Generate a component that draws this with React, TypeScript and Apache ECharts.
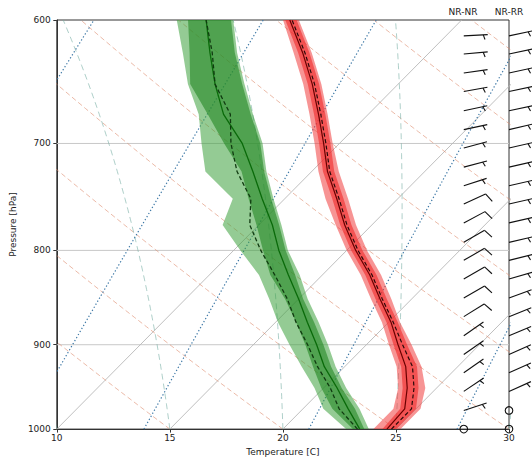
import React, { useEffect, useRef } from "react";
import * as echarts from "echarts";

// ---------- data ----------
const levels = [1000, 975, 950, 925, 900, 875, 850, 825, 800, 775, 750, 725, 700, 675, 650, 625, 600];

// temperature (deg C)
const tempNR = [24.6, 24.5, 23.7, 22.7, 21.4, 20.1, 18.6, 17.1, 15.4, 13.8, 12.3, 10.7, 9.3, 7.8, 6.2, 4.4, 2.4];
const tempRR = [24.8, 24.8, 24.0, 23.0, 21.6, 20.2, 18.7, 17.2, 15.5, 13.9, 12.4, 10.8, 9.4, 7.9, 6.3, 4.5, 2.5];
const tempOuterLo = [24.0, 24.0, 23.3, 22.3, 21.0, 19.7, 18.2, 16.7, 15.0, 13.4, 11.8, 10.3, 8.9, 7.4, 5.8, 4.0, 2.1];
const tempOuterHi = [25.2, 25.2, 24.5, 23.4, 22.0, 20.5, 19.1, 17.6, 15.9, 14.3, 12.8, 11.2, 9.7, 8.2, 6.6, 4.8, 2.8];
const tempInnerLo = [24.4, 24.3, 23.5, 22.5, 21.2, 19.9, 18.4, 16.9, 15.2, 13.6, 12.1, 10.5, 9.1, 7.6, 6.0, 4.2, 2.2];
const tempInnerHi = [25.0, 25.0, 24.2, 23.2, 21.8, 20.4, 18.9, 17.4, 15.7, 14.1, 12.6, 11.0, 9.6, 8.1, 6.5, 4.7, 2.7];

// dewpoint (deg C)
const dewNR = [23.4, 22.0, 20.6, 19.1, 17.8, 16.4, 15.0, 13.5, 12.0, 10.6, 9.0, 7.4, 5.7, 3.6, 1.9, 0.3, -1.3];
const dewRR = [23.3, 21.6, 20.3, 18.8, 17.4, 15.9, 14.5, 12.9, 11.2, 9.6, 8.5, 6.7, 5.2, 3.9, 1.9, 0.4, -1.3];
const dewOuterLo = [22.8, 20.9, 19.6, 18.1, 16.6, 15.1, 13.7, 12.2, 10.3, 8.4, 7.7, 5.3, 3.9, 2.5, 0.7, -0.9, -2.6];
const dewInnerLo = [23.1, 21.3, 19.9, 18.6, 17.3, 15.9, 14.4, 12.7, 11.3, 9.9, 8.4, 6.9, 4.9, 2.9, 0.8, -0.6, -2.1];
const dewInnerHi = [23.6, 22.3, 20.8, 19.4, 18.1, 16.7, 15.2, 13.8, 12.3, 10.9, 9.4, 7.9, 6.5, 4.8, 3.1, 1.4, -0.2];
const dewOuterHi = [23.8, 22.5, 21.0, 19.6, 18.3, 16.9, 15.4, 14.0, 12.4, 11.0, 9.5, 8.0, 6.6, 4.9, 3.2, 1.5, -0.1];

// wind barbs
const barbLevels = [1000, 977, 954, 932, 911, 890, 869, 849, 829, 810, 792, 773, 755, 738, 721, 704, 688, 672, 656, 641, 626, 612];
const nrnrSpeed = [0, 5, 5, 5, 5, 5, 10, 10, 10, 10, 10, 10, 10, 5, 5, 5, 5, 5, 5, 5, 5, 5];
const nrnrDir = [0, 72, 56, 55, 55, 55, 58, 60, 60, 60, 60, 62, 65, 72, 75, 75, 78, 78, 80, 82, 85, 87];
const nrrrSpeed = [0, 0, 5, 5, 5, 5, 5, 5, 5, 5, 5, 5, 5, 5, 5, 5, 5, 5, 5, 5, 5, 5];
const nrrrDir = [0, 0, 66, 66, 66, 67, 68, 70, 74, 76, 77, 77, 77, 77, 77, 77, 77, 78, 78, 78, 78, 78];

// axes
const xTicks = [10, 15, 20, 25, 30];
const pressureTicks = [600, 700, 800, 900, 1000];
const gridPressures = [700, 800, 900];

// background reference lines
const isoTemps = [10, 15, 20, 25, 30];
const dryThetas = [10, 15, 20, 25, 30, 35, 40, 45, 50, 55, 60];
const moistStarts = [10, 15, 20, 25, 30];
const mixingRatios = [0.0004, 0.001, 0.002, 0.004, 0.007, 0.01, 0.016, 0.024, 0.032];

// ---------- helpers ----------
const SKEW = 35.05;
const lp = (p: number) => Math.log(p);
const xOf = (t: number, p: number) => t + SKEW * Math.log(1000 / p);
const pSteps: number[] = [];
for (let p = 1000; p >= 600; p -= 10) pSteps.push(p);

function dryLine(th: number) {
  return pSteps.map((p) => [xOf((th + 273.15) * Math.pow(p / 1000, 0.2857) - 273.15, p), lp(p)]);
}
function mixLine(w: number) {
  return pSteps.map((p) => {
    const e = (p * w) / (0.622 + w);
    const a = Math.log(e / 6.112);
    const td = (243.5 * a) / (17.67 - a);
    return [xOf(td, p), lp(p)];
  });
}
function moistLine(t0: number) {
  const f = (pp: number, TT: number) => {
    const tc = TT - 273.15;
    const es = 6.112 * Math.exp((17.67 * tc) / (tc + 243.5));
    const rs = (0.622 * es) / (pp - es);
    return ((1 / pp) * (287.04 * TT + 2.501e6 * rs)) / (1005.7 + (2.501e6 * 2.501e6 * rs * 0.622) / (287.04 * TT * TT));
  };
  let T = t0 + 273.15;
  let p = 1000;
  const dp = -5;
  const pts: number[][] = [[xOf(T - 273.15, p), lp(p)]];
  while (p > 600) {
    const k1 = f(p, T);
    const k2 = f(p + dp / 2, T + (dp / 2) * k1);
    const k3 = f(p + dp / 2, T + (dp / 2) * k2);
    const k4 = f(p + dp, T + dp * k3);
    T += (dp / 6) * (k1 + 2 * k2 + 2 * k3 + k4);
    p += dp;
    pts.push([xOf(T - 273.15, p), lp(p)]);
  }
  return pts;
}

const bg = (data: number[][], color: string, width: number, type: any) => ({
  type: "line",
  data,
  showSymbol: false,
  symbol: "none",
  silent: true,
  z: 1,
  lineStyle: { color, width, type },
});

function band(lo: number[], hi: number[], color: string, z: number) {
  return {
    type: "custom",
    z,
    silent: true,
    clip: true,
    encode: { x: [0, 1], y: 2 },
    data: levels.map((p, i) => [xOf(lo[i], p), xOf(hi[i], p), lp(p)]),
    renderItem: (params: any, api: any) => {
      if (params.dataIndex !== 0) return null;
      const pts: number[][] = [];
      for (let i = 0; i < levels.length; i++) pts.push(api.coord([xOf(lo[i], levels[i]), lp(levels[i])]));
      for (let i = levels.length - 1; i >= 0; i--) pts.push(api.coord([xOf(hi[i], levels[i]), lp(levels[i])]));
      return { type: "polygon", shape: { points: pts }, style: { fill: color } };
    },
  };
}

const profile = (vals: number[], color: string, type: any, width: number) => ({
  type: "line",
  data: levels.map((p, i) => [xOf(vals[i], p), lp(p)]),
  showSymbol: false,
  symbol: "none",
  silent: true,
  z: 5,
  lineStyle: { color, width, type },
});

function barbs(xloc: number, speeds: number[], dirs: number[]) {
  return {
    type: "custom",
    z: 6,
    silent: true,
    clip: false,
    encode: { x: 0, y: 1 },
    data: barbLevels.map((p, i) => [xloc, lp(p), speeds[i], dirs[i]]),
    renderItem: (params: any, api: any) => {
      const c = api.coord([api.value(0), api.value(1)]);
      const spd = api.value(2);
      const dir = (api.value(3) * Math.PI) / 180;
      const L = 24;
      const style = { stroke: "#111", lineWidth: 1.1, fill: null };
      if (spd < 2.5) {
        return { type: "circle", shape: { cx: c[0], cy: c[1], r: 3.8 }, style: { stroke: "#111", lineWidth: 1.1, fill: "none" } };
      }
      const s = [Math.sin(dir), -Math.cos(dir)];
      const n = [-s[1], s[0]];
      const children: any[] = [
        { type: "line", shape: { x1: c[0], y1: c[1], x2: c[0] + L * s[0], y2: c[1] + L * s[1] }, style },
      ];
      const nFull = Math.floor(spd / 10);
      const half = spd - nFull * 10 >= 5;
      let off = L;
      for (let i = 0; i < nFull; i++) {
        const x0 = c[0] + off * s[0];
        const y0 = c[1] + off * s[1];
        children.push({
          type: "line",
          shape: { x1: x0, y1: y0, x2: x0 + 0.4 * L * n[0] + 0.125 * L * s[0], y2: y0 + 0.4 * L * n[1] + 0.125 * L * s[1] },
          style,
        });
        off -= 0.125 * L;
      }
      if (half) {
        if (off === L) off -= 1.5 * 0.125 * L;
        const x0 = c[0] + off * s[0];
        const y0 = c[1] + off * s[1];
        children.push({
          type: "line",
          shape: { x1: x0, y1: y0, x2: x0 + 0.2 * L * n[0] + 0.0625 * L * s[0], y2: y0 + 0.2 * L * n[1] + 0.0625 * L * s[1] },
          style,
        });
      }
      return { type: "group", children };
    },
  };
}

const FONT = "DejaVu Sans";

function buildOption() {
  const series: any[] = [];
  gridPressures.forEach((p) => series.push(bg([[10, lp(p)], [30, lp(p)]], "#c8c8c8", 1, "solid")));
  isoTemps.forEach((t) => series.push(bg([[xOf(t, 1000), lp(1000)], [xOf(t, 600), lp(600)]], "#b8b8b8", 0.9, "solid")));
  dryThetas.forEach((th) => series.push(bg(dryLine(th), "rgba(222,140,110,0.6)", 1, [5, 3])));
  moistStarts.forEach((t) => series.push(bg(moistLine(t), "rgba(120,175,165,0.6)", 1, [6, 4])));
  mixingRatios.forEach((w) => series.push(bg(mixLine(w), "#3d78a6", 1.2, [1.3, 2.2])));

  series.push(band(dewOuterLo, dewOuterHi, "rgba(60,160,60,0.55)", 2));
  series.push(band(dewInnerLo, dewInnerHi, "rgba(35,135,35,0.6)", 3));
  series.push(band(tempOuterLo, tempOuterHi, "rgba(240,60,60,0.55)", 2));
  series.push(band(tempInnerLo, tempInnerHi, "rgba(240,40,40,0.6)", 3));

  series.push(profile(dewNR, "#0a6a0a", "solid", 1.3));
  series.push(profile(dewRR, "#103a10", [4, 2.5], 1.3));
  series.push(profile(tempNR, "#6a0000", "solid", 1.2));
  series.push(profile(tempRR, "#2a0a0a", [4, 2.5], 1.2));

  series.push(barbs(28, nrnrSpeed, nrnrDir));
  series.push(barbs(30, nrrrSpeed, nrrrDir));

  const yTickVals = pressureTicks.map(lp);

  return {
    animation: false,
    textStyle: { fontFamily: FONT },
    grid: { left: 51, right: 23, top: 20, bottom: 31, show: true, borderColor: "#333", borderWidth: 1, backgroundColor: "transparent" },
    xAxis: {
      type: "value",
      min: 10,
      max: 30,
      interval: 5,
      name: "Temperature [C]",
      nameLocation: "middle",
      nameGap: 16,
      nameTextStyle: { fontFamily: FONT, fontSize: 9, color: "#222" },
      axisLine: { show: true, onZero: false, lineStyle: { color: "#333", width: 1 } },
      axisTick: { show: true, inside: false, length: 3.5, lineStyle: { color: "#333" }, customValues: xTicks },
      axisLabel: { fontFamily: FONT, fontSize: 9, color: "#222", margin: 4, customValues: xTicks },
      splitLine: { show: false },
    },
    yAxis: {
      type: "value",
      inverse: true,
      min: lp(600),
      max: lp(1000),
      name: "Pressure [hPa]",
      nameLocation: "middle",
      nameGap: 32,
      nameRotate: 90,
      nameTextStyle: { fontFamily: FONT, fontSize: 9, color: "#222" },
      axisLine: { show: true, onZero: false, lineStyle: { color: "#333", width: 1 } },
      axisTick: { show: true, inside: false, length: 3.5, lineStyle: { color: "#333" }, customValues: yTickVals },
      axisLabel: {
        fontFamily: FONT,
        fontSize: 9,
        color: "#222",
        margin: 6,
        customValues: yTickVals,
        formatter: (v: number) => String(Math.round(Math.exp(v))),
      },
      splitLine: { show: false },
    },
    graphic: [
      { type: "text", x: 463, y: 12, style: { text: "NR-NR", fontFamily: FONT, fontSize: 9, fill: "#222", textAlign: "center", textVerticalAlign: "middle" } },
      { type: "text", x: 509, y: 12, style: { text: "NR-RR", fontFamily: FONT, fontSize: 9, fill: "#222", textAlign: "center", textVerticalAlign: "middle" } },
    ],
    series,
  };
}

export default function App() {
  const ref = useRef<HTMLDivElement>(null);
  useEffect(() => {
    const chart = echarts.init(ref.current!, null, { renderer: "svg" });
    chart.setOption(buildOption() as any);
    return () => chart.dispose();
  }, []);
  return <div ref={ref} style={{ position: "fixed", left: 0, top: 0, width: 532, height: 461, background: "#fff" }} />;
}
